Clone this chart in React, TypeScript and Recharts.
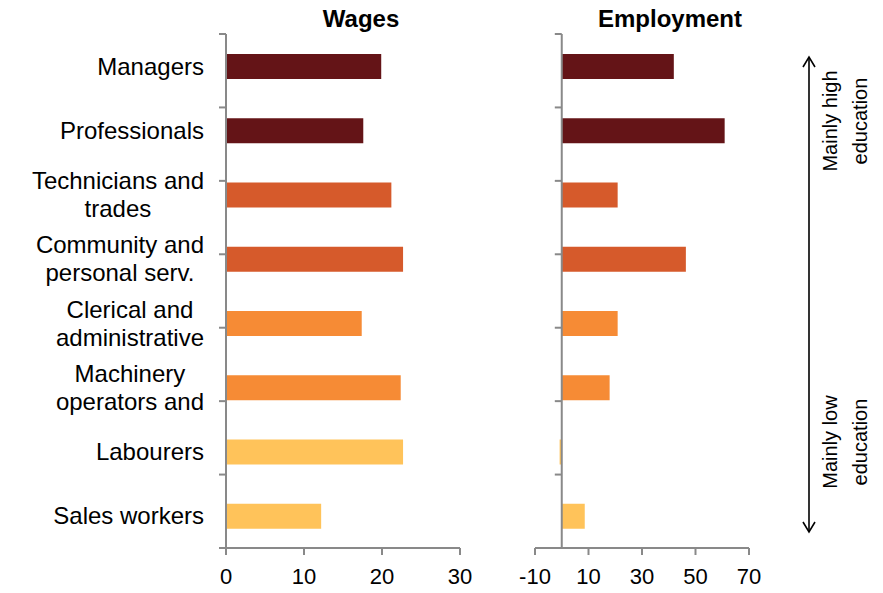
import { Bar, BarChart, Cell, ReferenceLine, XAxis, YAxis } from "recharts";

const categories = [
  "Managers",
  "Professionals",
  "Technicians and\ntrades",
  "Community and\npersonal serv.",
  "Clerical and\nadministrative",
  "Machinery\noperators and",
  "Labourers",
  "Sales workers",
];
const wages = [19.9, 17.6, 21.2, 22.7, 17.4, 22.4, 22.7, 12.2];
const employment = [41.9, 60.9, 20.9, 46.4, 20.9, 17.9, -0.8, 8.6];
const barColors = ["#641417", "#641417", "#d65a2b", "#d65a2b", "#f68b35", "#f68b35", "#ffc35a", "#ffc35a"];
const wageTicks = [0, 10, 20, 30];
const employmentTicks = [-10, 10, 30, 50, 70];
const bandEdges = [0, 1, 2, 3, 4, 5, 6, 7, 8];

const data = categories.map((name, i) => ({ name, wages: wages[i], employment: employment[i] }));

const axisGrey = "#898989";
const font = "Arial, 'Liberation Sans', sans-serif";
const labelSize = 24;

let measureCtx: CanvasRenderingContext2D | null = null;
function textWidth(s: string) {
  if (!measureCtx) measureCtx = document.createElement("canvas").getContext("2d");
  if (!measureCtx) return s.length * labelSize * 0.5;
  measureCtx.font = `${labelSize}px ${font}`;
  return measureCtx.measureText(s).width;
}

// multi-line labels: block right-aligned on the axis, lines centred inside it
function CategoryTick({ x, y, payload }: { x?: number; y?: number; payload?: { value: string } }) {
  const lines = String(payload?.value ?? "").split("\n");
  const right = x ?? 0;
  const widest = Math.max(...lines.map(textWidth));
  const cx = lines.length > 1 ? right - widest / 2 : right;
  return (
    <text x={cx} y={y} textAnchor={lines.length > 1 ? "middle" : "end"} fontSize={labelSize} fill="#000">
      {lines.map((line, i) => (
        <tspan key={i} x={cx} y={(y ?? 0) + 8.6 + (i - (lines.length - 1) / 2) * 28}>
          {line}
        </tspan>
      ))}
    </text>
  );
}

// little ticks between categories, drawn on a hidden 0..8 axis
function edgeTicks(from: number, to: number) {
  return bandEdges.map((e) => (
    <ReferenceLine
      key={e}
      yAxisId="edge"
      xAxisId={0}
      ifOverflow="visible"
      segment={[
        { x: from, y: e },
        { x: to, y: e },
      ]}
      stroke={axisGrey}
      strokeWidth={2}
    />
  ));
}

export default function App() {
  return (
    <div style={{ position: "absolute", left: 0, top: 0, width: 883, height: 593, background: "#fff", fontFamily: font }}>
      <div style={{ position: "absolute", left: 0, top: 0 }}>
        <BarChart width={480} height={593} data={data} layout="vertical" margin={{ top: 34, right: 20, left: 0, bottom: 0 }}>
          <XAxis
            type="number"
            domain={[0, 30]}
            ticks={wageTicks}
            height={45}
            tickSize={7}
            tickMargin={13}
            axisLine={{ stroke: axisGrey, strokeWidth: 2 }}
            tickLine={{ stroke: axisGrey, strokeWidth: 2 }}
            tick={{ fill: "#000", fontSize: 22 }}
          />
          <YAxis
            yAxisId="cat"
            type="category"
            dataKey="name"
            width={226}
            tickSize={7}
            tickMargin={15}
            tickLine={false}
            axisLine={{ stroke: axisGrey, strokeWidth: 2 }}
            tick={<CategoryTick />}
            interval={0}
          />
          <YAxis yAxisId="edge" type="number" domain={[0, 8]} hide />
          {edgeTicks(-0.9, 0)}
          <Bar yAxisId="cat" dataKey="wages" barSize={25} isAnimationActive={false}>
            {data.map((_, i) => (
              <Cell key={i} fill={barColors[i]} />
            ))}
          </Bar>
        </BarChart>
      </div>
      <div style={{ position: "absolute", left: 500, top: 0 }}>
        <BarChart width={270} height={593} data={data} layout="vertical" margin={{ top: 34, right: 21, left: 35, bottom: 0 }}>
          <XAxis
            type="number"
            domain={[-10, 70]}
            ticks={employmentTicks}
            height={45}
            tickSize={7}
            tickMargin={13}
            axisLine={{ stroke: axisGrey, strokeWidth: 2 }}
            tickLine={{ stroke: axisGrey, strokeWidth: 2 }}
            tick={{ fill: "#000", fontSize: 22 }}
          />
          <YAxis yAxisId="cat" type="category" dataKey="name" hide />
          <YAxis yAxisId="edge" type="number" domain={[0, 8]} hide />
          <ReferenceLine yAxisId="cat" x={0} stroke={axisGrey} strokeWidth={2} />
          {edgeTicks(-2.6, 0)}
          <Bar yAxisId="cat" dataKey="employment" barSize={25} isAnimationActive={false}>
            {data.map((_, i) => (
              <Cell key={i} fill={barColors[i]} />
            ))}
          </Bar>
        </BarChart>
      </div>
      <svg width={883} height={593} style={{ position: "absolute", left: 0, top: 0, pointerEvents: "none" }}>
        <text x={361} y={27} textAnchor="middle" fontSize={24} fontWeight="bold" fill="#000">
          Wages
        </text>
        <text x={670} y={27} textAnchor="middle" fontSize={24} fontWeight="bold" fill="#000">
          Employment
        </text>
        <g stroke="#000" strokeWidth={1.6} fill="none">
          <line x1={809} y1={57} x2={809} y2={532} />
          <polyline points="803,67 809,57 815,67" />
          <polyline points="803,522 809,532 815,522" />
        </g>
        <g fontSize={20} fill="#000" textAnchor="middle">
          <text transform="translate(837,121) rotate(-90)">Mainly high</text>
          <text transform="translate(867,121) rotate(-90)">education</text>
          <text transform="translate(837,442) rotate(-90)">Mainly low</text>
          <text transform="translate(867,442) rotate(-90)">education</text>
        </g>
      </svg>
    </div>
  );
}
